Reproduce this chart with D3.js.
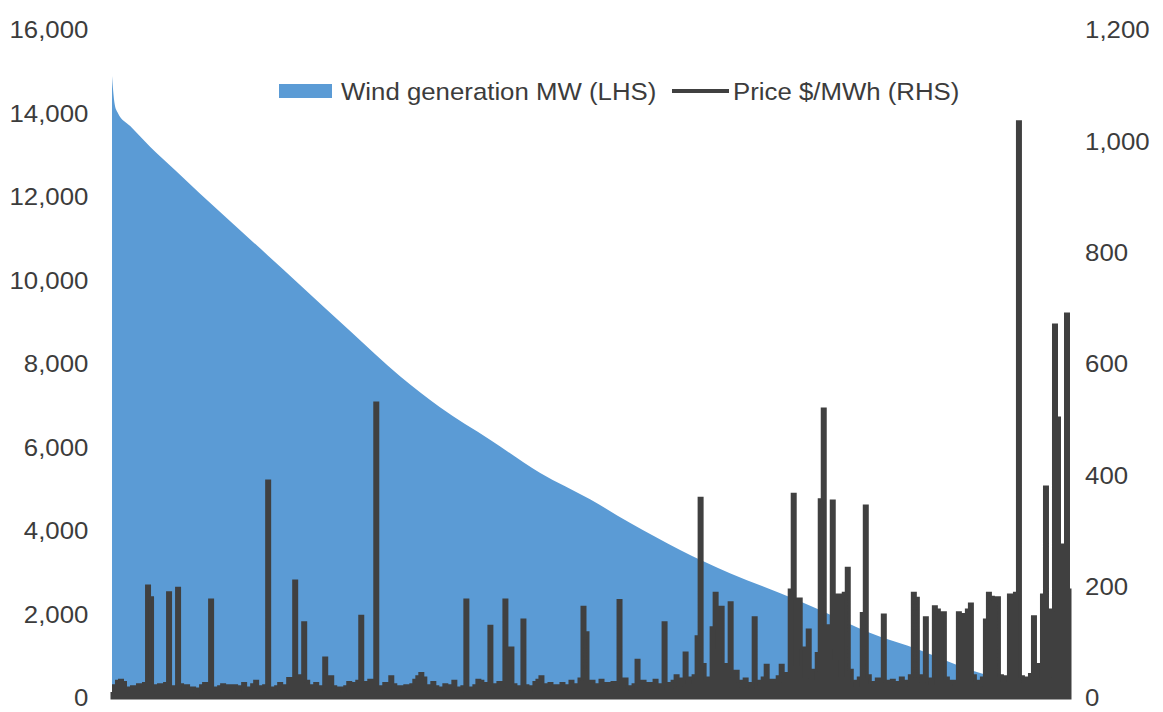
<!DOCTYPE html>
<html>
<head>
<meta charset="utf-8">
<script src="https://cdn.jsdelivr.net/npm/d3@7"></script>
<style>
  body { margin: 0; background: #fff; }
  text { font-family: "Liberation Sans", Arial, sans-serif; fill: #3c3c3c; }
</style>
</head>
<body>
<script>
const width = 1163, height = 712;

// wind generation duration curve: % of time vs MW (LHS)
const windPct = [0, 0.1, 0.3, 0.6, 1.9, 4, 6.6, 9.2, 14.4, 19.6, 24.8, 30.1, 34.2, 39.5,
  44.7, 49.9, 54.1, 59.3, 64.5, 69.7, 73.9, 79.1, 84.3, 89.6, 93, 94.3, 96.9, 100];
const windMW = [14900, 14600, 14200, 14020, 13700, 13200, 12640, 12080, 10990, 9900, 8800, 7700,
  6970, 6180, 5390, 4760, 4190, 3545, 2990, 2515, 2110, 1560, 1150, 670, 430, 320, 240, 180];

// price $/MWh (RHS), same time ordering
const price = [
  8, 22, 30, 32, 28, 18, 12, 20, 14, 24, 16, 26, 201, 180, 22, 15, 24, 18, 26, 189,
  20, 14, 197, 24, 16, 22, 12, 18, 10, 16, 22, 26, 20, 176, 18, 12, 20, 24, 16, 22,
  18, 22, 14, 20, 26, 18, 12, 24, 30, 20, 14, 22, 390, 18, 12, 20, 26, 16, 22, 35,
  28, 210, 40, 36, 135, 30, 22, 18, 26, 14, 20, 72, 30, 38, 20, 12, 18, 14, 20, 28,
  26, 18, 30, 147, 28, 20, 32, 16, 530, 14, 20, 26, 18, 38, 24, 14, 20, 16, 22, 18,
  24, 32, 38, 44, 36, 22, 16, 28, 20, 14, 18, 24, 16, 22, 30, 18, 12, 20, 176, 18,
  14, 22, 32, 30, 20, 26, 129, 24, 18, 28, 22, 176, 30, 90, 24, 16, 20, 140, 22, 14,
  20, 28, 32, 38, 24, 18, 26, 14, 22, 18, 26, 16, 22, 30, 20, 24, 34, 163, 117, 26,
  30, 18, 24, 32, 20, 26, 16, 28, 22, 175, 26, 34, 20, 16, 24, 68, 22, 30, 18, 26,
  20, 32, 24, 18, 135, 26, 20, 30, 40, 24, 34, 81, 28, 36, 40, 110, 359, 60, 36, 28,
  126, 188, 90, 163, 60, 40, 171, 44, 48, 30, 22, 34, 26, 20, 144, 30, 24, 36, 59, 28,
  32, 20, 38, 59, 30, 44, 194, 366, 60, 178, 90, 40, 122, 36, 50, 80, 356, 519, 130, 90,
  354, 70, 185, 40, 188, 233, 50, 30, 24, 36, 152, 345, 40, 28, 22, 34, 26, 149, 30, 24,
  32, 20, 28, 36, 24, 30, 40, 188, 179, 40, 30, 144, 34, 26, 164, 158, 150, 153, 36, 28,
  30, 24, 153, 149, 150, 158, 169, 40, 30, 24, 36, 140, 188, 181, 178, 180, 40, 32, 38, 185,
  40, 188, 1035, 38, 30, 36, 42, 146, 40, 60, 185, 379, 40, 158, 670, 503, 275, 40, 690, 194
];

const leftTicks = [0, 2000, 4000, 6000, 8000, 10000, 12000, 14000, 16000];
const rightTicks = [0, 200, 400, 600, 800, 1000, 1200];

const svg = d3.select("body").append("svg")
  .attr("width", width)
  .attr("height", height);

const x = d3.scaleLinear().domain([0, 100]).range([112, 1070]);
const yL = d3.scaleLinear().domain([0, 16000]).range([698, 30]);
const yR = d3.scaleLinear().domain([0, 1200]).range([698, 30]);

const windData = windPct.map((p, i) => ({ p: p, v: windMW[i] }));
const priceData = price.map((v, i) => ({ p: i * 100 / (price.length - 1), v: v }));

svg.append("path")
  .datum(windData)
  .attr("fill", "#5b9bd5")
  .attr("d", d3.area()
    .x(d => x(d.p))
    .y0(yL(0))
    .y1(d => yL(d.v))
    .curve(d3.curveMonotoneX));

svg.append("line")
  .attr("x1", x(0)).attr("x2", x(100))
  .attr("y1", yL(0)).attr("y2", yL(0))
  .attr("stroke", "#8a8a8a");

// price: dense series, filled underneath so the bars read solid
svg.append("path")
  .datum(priceData)
  .attr("fill", "#404040")
  .attr("stroke", "#404040")
  .attr("stroke-width", 3)
  .attr("d", d3.area()
    .x(d => x(d.p))
    .y0(yR(0))
    .y1(d => yR(d.v))
    .curve(d3.curveStep));

// axes (no lines, labels only)
const stretch = "scale(1.075,1)";

const gL = svg.append("g")
  .attr("transform", `translate(${x(0)},0)`)
  .call(d3.axisLeft(yL).tickValues(leftTicks).tickFormat(d3.format(",")).tickSize(0).tickPadding(22));
gL.select(".domain").remove();

const gR = svg.append("g")
  .attr("transform", `translate(${x(100)},0)`)
  .call(d3.axisRight(yR).tickValues(rightTicks).tickFormat(d3.format(",")).tickSize(0).tickPadding(14));
gR.select(".domain").remove();

svg.selectAll(".tick text")
  .attr("transform", stretch)
  .attr("font-family", null)
  .attr("fill", "#3c3c3c")
  .style("font-size", "24px");

// legend
const legend = svg.append("g");
legend.append("rect")
  .attr("x", 279).attr("y", 84).attr("width", 53).attr("height", 14)
  .attr("fill", "#5b9bd5");
legend.append("text")
  .attr("transform", `translate(341,100) ${stretch}`)
  .style("font-size", "24px")
  .text("Wind generation MW (LHS)");
legend.append("line")
  .attr("x1", 672).attr("x2", 729).attr("y1", 91).attr("y2", 91)
  .attr("stroke", "#404040").attr("stroke-width", 4);
legend.append("text")
  .attr("transform", `translate(733,100) ${stretch}`)
  .style("font-size", "24px")
  .text("Price $/MWh (RHS)");
</script>
</body>
</html>
